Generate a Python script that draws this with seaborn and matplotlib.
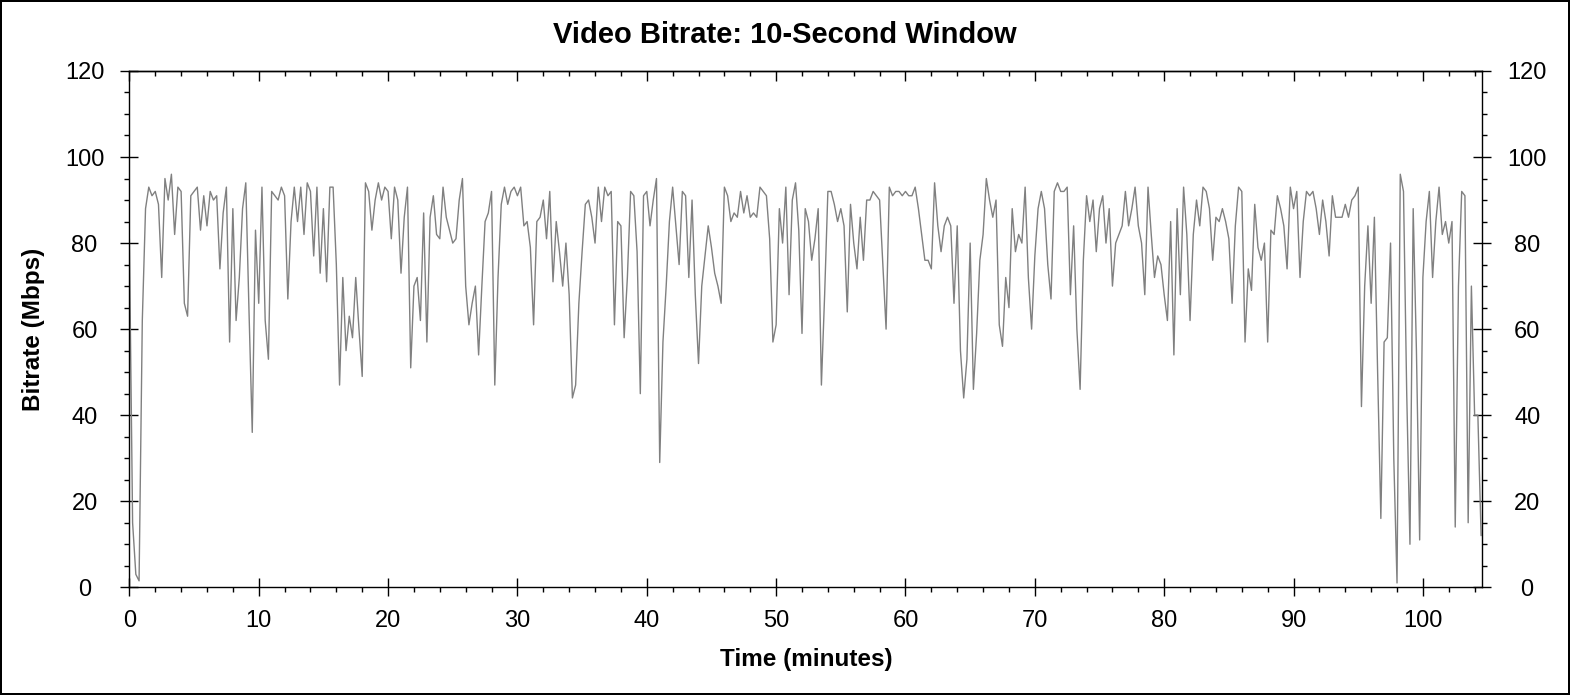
import numpy as np
import pandas as pd
import matplotlib
matplotlib.use("Agg")
import matplotlib.pyplot as plt
from matplotlib.ticker import MultipleLocator
import seaborn as sns

# === DONNÉES (lues sur le graphique, pas de 0.25 min) ===
sample_step_min = 0.25

bitrate_00_05 = [81, 15, 3, 1.5, 62, 88, 93, 91, 92, 89, 72, 95, 90, 96, 82, 93, 92, 66, 63, 91]
bitrate_05_10 = [92, 93, 83, 91, 84, 92, 90, 91, 74, 87, 93, 57, 88, 62, 72, 88, 94, 64, 36, 83]
bitrate_10_15 = [66, 93, 62, 53, 92, 91, 90, 93, 91, 67, 85, 93, 85, 93, 82, 94, 92, 77, 93, 73]
bitrate_15_20 = [88, 71, 93, 93, 75, 47, 72, 55, 63, 58, 72, 60, 49, 94, 92, 83, 90, 94, 90, 93]
bitrate_20_25 = [92, 81, 93, 90, 73, 86, 93, 51, 70, 72, 62, 87, 57, 86, 91, 82, 81, 93, 86, 83]
bitrate_25_30 = [80, 81, 90, 95, 70, 61, 66, 70, 54, 70, 85, 87, 92, 47, 72, 89, 93, 89, 92, 93]
bitrate_30_35 = [91, 93, 84, 85, 79, 61, 85, 86, 90, 81, 92, 71, 85, 78, 70, 80, 68, 44, 47, 66]
bitrate_35_40 = [78, 89, 90, 86, 80, 93, 85, 93, 91, 92, 61, 85, 84, 58, 72, 92, 91, 78, 45, 91]
bitrate_40_45 = [92, 84, 90, 95, 29, 57, 70, 85, 93, 84, 75, 92, 91, 72, 90, 68, 52, 70, 77, 84]
bitrate_45_50 = [79, 73, 70, 66, 93, 91, 85, 87, 86, 92, 87, 91, 86, 87, 86, 93, 92, 91, 81, 57]
bitrate_50_55 = [61, 88, 80, 93, 68, 90, 94, 83, 59, 88, 85, 76, 81, 88, 47, 68, 92, 92, 89, 85]
bitrate_55_60 = [88, 84, 64, 89, 80, 74, 86, 76, 90, 90, 92, 91, 90, 75, 60, 93, 91, 92, 92, 91]
bitrate_60_65 = [92, 91, 91, 93, 88, 82, 76, 76, 74, 94, 84, 78, 84, 86, 84, 66, 84, 55, 44, 53]
bitrate_65_70 = [80, 46, 59, 76, 82, 95, 90, 86, 90, 61, 56, 72, 65, 88, 78, 82, 80, 93, 72, 60]
bitrate_70_75 = [77, 88, 92, 88, 75, 67, 92, 94, 92, 92, 93, 68, 84, 60, 46, 76, 91, 85, 90, 78]
bitrate_75_80 = [88, 91, 80, 88, 70, 80, 82, 84, 92, 84, 88, 93, 84, 80, 68, 93, 82, 72, 77, 75]
bitrate_80_85 = [68, 62, 85, 54, 88, 68, 93, 82, 62, 82, 90, 84, 93, 92, 88, 76, 86, 85, 88, 85]
bitrate_85_90 = [81, 66, 84, 93, 92, 57, 74, 69, 89, 79, 76, 80, 57, 83, 82, 91, 88, 84, 74, 93]
bitrate_90_95 = [88, 92, 72, 85, 92, 91, 92, 88, 82, 90, 85, 77, 91, 86, 86, 86, 89, 86, 90, 91]
bitrate_95_100 = [93, 42, 70, 84, 66, 86, 50, 16, 57, 58, 80, 30, 1, 96, 92, 45, 10, 88, 55, 11]
bitrate_100_end = [72, 85, 92, 72, 85, 93, 82, 85, 80, 85, 14, 70, 92, 91, 15, 70, 40, 40, 12]

bitrate = (bitrate_00_05 + bitrate_05_10 + bitrate_10_15 + bitrate_15_20 + bitrate_20_25
           + bitrate_25_30 + bitrate_30_35 + bitrate_35_40 + bitrate_40_45 + bitrate_45_50
           + bitrate_50_55 + bitrate_55_60 + bitrate_60_65 + bitrate_65_70 + bitrate_70_75
           + bitrate_75_80 + bitrate_80_85 + bitrate_85_90 + bitrate_90_95 + bitrate_95_100
           + bitrate_100_end)
minutes = np.arange(len(bitrate)) * sample_step_min

df = pd.DataFrame({"minutes": minutes, "bitrate": bitrate})

# === STYLE ===
sns.set_style("ticks")
plt.rcParams["font.family"] = ["Liberation Sans", "DejaVu Sans"]
plt.rcParams["text.color"] = "black"
plt.rcParams["axes.labelcolor"] = "black"
plt.rcParams["xtick.color"] = "black"
plt.rcParams["ytick.color"] = "black"

fig = plt.figure(figsize=(15.7, 6.95), dpi=100, facecolor="white",
                 edgecolor="black", linewidth=1.5)
ax = fig.add_axes([0.0824, 0.155, 0.8618, 0.7429])

sns.lineplot(data=df, x="minutes", y="bitrate", ax=ax, color="#808080",
             linewidth=1.0, estimator=None, sort=False)

ax.set_xlim(0, 104.6)
ax.set_ylim(0, 120)
ax.xaxis.set_major_locator(MultipleLocator(10))
ax.xaxis.set_minor_locator(MultipleLocator(2))
ax.yaxis.set_major_locator(MultipleLocator(20))
ax.yaxis.set_minor_locator(MultipleLocator(5))

for side in ["left", "right", "top", "bottom"]:
    ax.spines[side].set_visible(True)
    ax.spines[side].set_color("black")
    ax.spines[side].set_linewidth(1.0)

ax.tick_params(axis="x", which="major", direction="inout", length=13, width=1,
               labelsize=17, pad=10, colors="black", top=False)
ax.tick_params(axis="x", which="minor", direction="out", length=3.5, width=1,
               top=False, colors="black")
ax.tick_params(axis="y", which="major", direction="inout", length=13.5, width=1,
               labelsize=17, pad=25.5, left=True, right=True,
               labelleft=True, labelright=True, colors="black")
ax.tick_params(axis="y", which="minor", direction="out", length=3.5, width=1,
               left=True, right=True, colors="black")
for tick in ax.yaxis.get_major_ticks():
    tick.label1.set_horizontalalignment("center")
    tick.label2.set_horizontalalignment("center")

# graduations du haut, vers l'intérieur
top = ax.secondary_xaxis("top")
top.xaxis.set_major_locator(MultipleLocator(10))
top.xaxis.set_minor_locator(MultipleLocator(2))
top.tick_params(which="major", direction="in", length=7, width=1, labeltop=False,
                colors="black")
top.tick_params(which="minor", direction="in", length=3.5, width=1, colors="black")
top.spines["top"].set_linewidth(1.0)
top.spines["top"].set_color("black")

ax.set_xlabel("Time (minutes)", fontsize=17.5, fontweight="bold", va="center",
              color="black")
ax.xaxis.set_label_coords(0.5, -0.139)
ax.set_ylabel("Bitrate (Mbps)", fontsize=17.5, fontweight="bold", va="center",
              ha="center", color="black")
ax.yaxis.set_label_coords(-0.0712, 0.5)

fig.suptitle("Video Bitrate: 10-Second Window", fontsize=21, fontweight="bold",
             x=0.5, y=0.9496, va="center", color="black")

fig.savefig("out.png", dpi=100)
plt.close(fig)
